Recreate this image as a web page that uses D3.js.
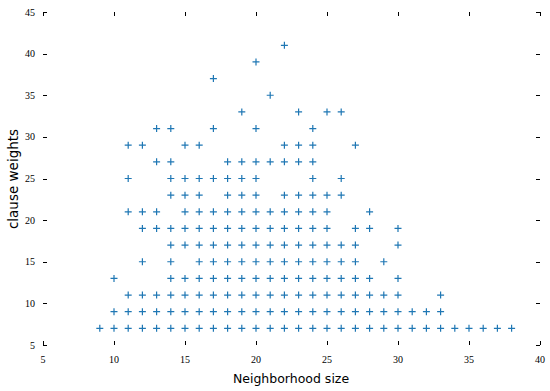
<!DOCTYPE html>
<html>
<head>
<meta charset="utf-8">
<script src="https://cdn.jsdelivr.net/npm/d3@7"></script>
<style>
  body { margin: 0; background: #fff; }
  .tickLabel { font-family: "Liberation Serif", "DejaVu Serif", serif; font-size: 10px; fill: #000; }
  .axisTitle { font-family: "DejaVu Sans", sans-serif; font-size: 13px; fill: #000; }
</style>
</head>
<body>
<svg id="chart" width="550" height="391"></svg>
<script>
// clause weight levels (y) and the neighborhood sizes (x) found at each level
const weightLevels = [7, 9, 11, 13, 15, 17, 19, 21, 23, 25, 27, 29, 31, 33, 35, 37, 39, 41];
const sizesAtWeight = [
  [9, 10, 11, 12, 13, 14, 15, 16, 17, 18, 19, 20, 21, 22, 23, 24, 25, 26, 27, 28, 29, 30, 31, 32, 33, 34, 35, 36, 37, 38],
  [10, 11, 12, 13, 14, 15, 16, 17, 18, 19, 20, 21, 22, 23, 24, 25, 26, 27, 28, 29, 30, 31, 32, 33],
  [11, 12, 13, 14, 15, 16, 17, 18, 19, 20, 21, 22, 23, 24, 25, 26, 27, 28, 29, 30, 33],
  [10, 14, 15, 16, 17, 18, 19, 20, 21, 22, 23, 24, 25, 26, 27, 28, 30],
  [12, 14, 16, 17, 18, 19, 20, 21, 22, 23, 24, 25, 26, 27, 29],
  [14, 15, 16, 17, 18, 19, 20, 21, 22, 23, 24, 25, 26, 27, 30],
  [12, 13, 14, 15, 16, 17, 18, 19, 20, 21, 22, 23, 24, 25, 27, 28, 30],
  [11, 12, 13, 15, 16, 17, 18, 19, 20, 21, 22, 23, 24, 25, 28],
  [14, 15, 16, 18, 19, 20, 22, 23, 24, 25, 26],
  [11, 14, 15, 16, 17, 18, 19, 20, 24, 26],
  [13, 14, 18, 19, 20, 21, 22, 23, 24],
  [11, 12, 15, 16, 22, 23, 24, 27],
  [13, 14, 17, 20, 24],
  [19, 23, 25, 26],
  [21],
  [17],
  [20],
  [22]
];
const xTicks = [5, 10, 15, 20, 25, 30, 35, 40];
const yTicks = [5, 10, 15, 20, 25, 30, 35, 40, 45];

const points = [];
weightLevels.forEach((w, i) => {
  sizesAtWeight[i].forEach((s) => points.push({ x: s, y: w }));
});

const svg = d3.select("#chart");
const plotLeft = 43, plotRight = 540, plotTop = 12, plotBottom = 345;
const tickLen = 4;

const x = d3.scaleLinear().domain([5, 40]).range([plotLeft, plotRight]);
const y = d3.scaleLinear().domain([5, 45]).range([plotBottom, plotTop]);

const ticks = svg.append("g").attr("stroke", "#000").attr("stroke-width", 1);

// bottom + top ticks (pointing inward)
xTicks.forEach((t) => {
  const px = Math.round(x(t)) + 0.5;
  ticks.append("line").attr("x1", px).attr("x2", px).attr("y1", plotBottom).attr("y2", plotBottom - tickLen);
  ticks.append("line").attr("x1", px).attr("x2", px).attr("y1", plotTop).attr("y2", plotTop + tickLen);
});
// left + right ticks
yTicks.forEach((t) => {
  const py = Math.round(y(t)) + 0.5;
  ticks.append("line").attr("x1", plotLeft).attr("x2", plotLeft + tickLen).attr("y1", py).attr("y2", py);
  ticks.append("line").attr("x1", plotRight).attr("x2", plotRight - tickLen).attr("y1", py).attr("y2", py);
});

svg.append("g")
  .selectAll("text")
  .data(xTicks)
  .enter()
  .append("text")
  .attr("class", "tickLabel")
  .attr("x", (d) => x(d))
  .attr("y", plotBottom + 18)
  .attr("text-anchor", "middle")
  .text((d) => d);

svg.append("g")
  .selectAll("text")
  .data(yTicks)
  .enter()
  .append("text")
  .attr("class", "tickLabel")
  .attr("x", plotLeft - 8)
  .attr("y", (d) => y(d))
  .attr("dy", "0.35em")
  .attr("text-anchor", "end")
  .text((d) => d);

svg.append("text")
  .attr("class", "axisTitle")
  .attr("x", 291)
  .attr("y", 383)
  .attr("text-anchor", "middle")
  .style("font-size", "12.5px")
  .text("Neighborhood size");

svg.append("text")
  .attr("class", "axisTitle")
  .attr("transform", "translate(18,179) rotate(-90)")
  .attr("text-anchor", "middle")
  .style("font-size", "13.5px")
  .text("clause weights");

// plus markers
const h = 3.5;
svg.append("g")
  .selectAll("path")
  .data(points)
  .enter()
  .append("path")
  .attr("d", (d) => {
    const cx = x(d.x), cy = y(d.y);
    return `M${cx - h},${cy}H${cx + h}M${cx},${cy - h}V${cy + h}`;
  })
  .style("fill", "none")
  .style("stroke", "#1f77b4")
  .style("stroke-width", "1.2");
</script>
</body>
</html>
